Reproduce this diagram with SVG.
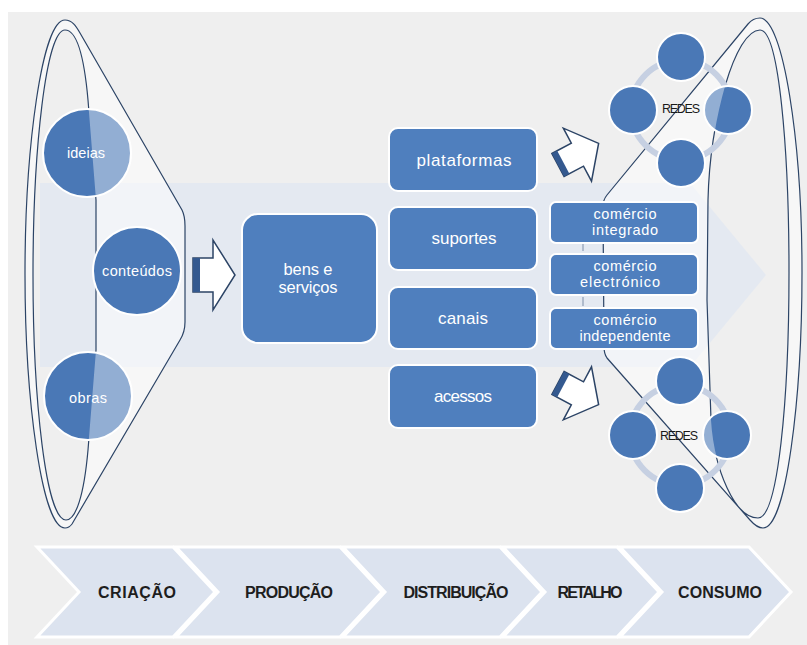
<svg xmlns="http://www.w3.org/2000/svg" xmlns:xlink="http://www.w3.org/1999/xlink" width="807" height="645" viewBox="0 0 807 645">
<defs>
<style>
.box{fill:#4f7fbe;stroke:#fff;stroke-width:2}
.circ{fill:#4a78b6;stroke:#fff;stroke-width:2}
.t{font-family:"Liberation Sans",Arial,sans-serif;fill:#fff;text-anchor:middle}
.chev{fill:#dce3ef;stroke:#fff;stroke-width:3;stroke-linejoin:miter}
.ct{font-family:"Liberation Sans",Arial,sans-serif;font-weight:bold;font-size:16px;fill:#1e1e1e;text-anchor:middle}
.loop{fill:none;stroke:#2c4466;stroke-width:1.2}
.ring{fill:none;stroke:#c6d0e2;stroke-width:6}
.arr{fill:#fff;stroke:#2c4466;stroke-width:1.5;stroke-linejoin:miter}
.arrd{fill:#34598f}
.redes{font-family:"Liberation Sans",Arial,sans-serif;font-size:12.5px;fill:#1a1a1a;text-anchor:middle}
</style>
<path id="lovl" d="M65,20 C72,20 76,26 80,33 L182,210 Q185,216 185,226 L185,322 Q185,332 180,340 L72,524 Q69,528 65,528 C42,528 25,400 25,274 C25,148 42,20 65,20 Z M65,30 C77,30 84,55 88,100 L96,200 L96,350 L88,450 C84,495 76,520 66,520 C46,520 33,400 33,275 C33,150 46,30 65,30 Z"/>
<path id="rovl" d="M760,18 C783,18 802,140 802,272 C802,400 786,528 763,528 Q757,528 750,520 L607,358 Q604,354 604,346 L603,206 Q603,200 607,195 L748,24 Q753,18 760,18 Z M760,30 C779,30 789,150 789,272 C789,400 778,518 758,518 C735,518 714,470 711,420 L707,300 L708,200 C710,120 735,30 760,30 Z"/>
<clipPath id="cIdeias"><circle cx="87" cy="153" r="44"/></clipPath>
<clipPath id="cObras"><circle cx="88" cy="396" r="44"/></clipPath>
<clipPath id="cR1"><circle cx="728" cy="110" r="24"/></clipPath>
<clipPath id="cR2"><circle cx="727" cy="435" r="24"/></clipPath>
<path id="darr" d="M0,-13 L22,-13 L22,-30 L46,0 L22,30 L22,13 L0,13 Z"/>
</defs>

<rect x="8" y="12" width="799" height="633" fill="#efefef"/>
<polygon points="40,183 690,183 766,275 690,367 40,367" fill="#e4e9f1"/>

<g id="funnels">
<use href="#lovl" xlink:href="#lovl" fill="#fff" fill-opacity="0.5" fill-rule="evenodd"/>
<use href="#rovl" xlink:href="#rovl" fill="#fff" fill-opacity="0.5" fill-rule="evenodd"/>
<use href="#lovl" xlink:href="#lovl" class="loop"/>
<use href="#rovl" xlink:href="#rovl" class="loop"/>
</g>

<g id="connectors">
<g transform="translate(193,275)">
<path class="arr" d="M0,-17 L20,-17 L20,-35 L42,0 L20,35 L20,17 L0,17 Z"/>
<rect class="arrd" x="0" y="-17" width="7" height="34"/>
</g>
<g transform="translate(558,165) rotate(-28)">
<use href="#darr" xlink:href="#darr" class="arr"/>
<rect class="arrd" x="0" y="-13" width="6" height="26"/>
</g>
<g transform="translate(558,383) rotate(28)">
<use href="#darr" xlink:href="#darr" class="arr"/>
<rect class="arrd" x="0" y="-13" width="6" height="26"/>
</g>
<line x1="583" y1="244" x2="583" y2="251" stroke="#7d8ea8" stroke-width="1"/>
<line x1="583" y1="297" x2="583" y2="306" stroke="#7d8ea8" stroke-width="1"/>
</g>

<g id="ideias">
<circle class="circ" cx="87" cy="153" r="44"/>
<text class="t" x="86" y="158" font-size="14.5" textLength="38">ideias</text>
<use href="#lovl" xlink:href="#lovl" fill="#fff" fill-opacity="0.4" fill-rule="evenodd" clip-path="url(#cIdeias)"/>
</g>
<g id="conteudos">
<circle class="circ" cx="137" cy="271" r="44"/>
<text class="t" x="137" y="276" font-size="14.5" textLength="70">conteúdos</text>
</g>
<g id="obras">
<circle class="circ" cx="88" cy="396" r="44"/>
<text class="t" x="88" y="402.5" font-size="14.5" textLength="38">obras</text>
<use href="#lovl" xlink:href="#lovl" fill="#fff" fill-opacity="0.4" fill-rule="evenodd" clip-path="url(#cObras)"/>
</g>

<g id="bens">
<rect class="box" x="242" y="214" width="135" height="129" rx="16"/>
<text class="t" x="308" y="275" font-size="16.5" textLength="49">bens e</text>
<text class="t" x="308" y="293" font-size="16.5" textLength="59">serviços</text>
</g>

<g id="plataformas">
<rect class="box" x="389" y="128" width="148" height="63" rx="9"/>
<text class="t" x="464" y="165.5" font-size="17" textLength="95">plataformas</text>
</g>
<g id="suportes">
<rect class="box" x="389" y="207" width="148" height="63" rx="9"/>
<text class="t" x="464" y="243.5" font-size="17" textLength="65">suportes</text>
</g>
<g id="canais">
<rect class="box" x="389" y="287" width="148" height="62" rx="9"/>
<text class="t" x="463" y="323.5" font-size="17" textLength="50">canais</text>
</g>
<g id="acessos">
<rect class="box" x="389" y="365" width="148" height="63" rx="9"/>
<text class="t" x="463" y="401.5" font-size="17" textLength="58">acessos</text>
</g>

<g id="comercio-integrado">
<rect class="box" x="550" y="202" width="148" height="41" rx="6"/>
<text class="t" x="625" y="219" font-size="14.5" textLength="63">comércio</text>
<text class="t" x="625" y="235" font-size="14.5" textLength="66">integrado</text>
</g>
<g id="comercio-electronico">
<rect class="box" x="550" y="254" width="148" height="41" rx="6"/>
<text class="t" x="625" y="271" font-size="14.5" textLength="63">comércio</text>
<text class="t" x="620" y="287" font-size="14.5" textLength="80">electrónico</text>
</g>
<g id="comercio-independente">
<rect class="box" x="550" y="308" width="148" height="41" rx="6"/>
<text class="t" x="625" y="325" font-size="14.5" textLength="63">comércio</text>
<text class="t" x="625" y="341" font-size="14.5" textLength="91">independente</text>
</g>

<g id="redes-top">
<circle class="ring" cx="681" cy="110" r="50"/>
<circle class="circ" cx="681" cy="57" r="24"/>
<circle class="circ" cx="633" cy="110" r="24"/>
<circle class="circ" cx="728" cy="110" r="24"/>
<circle class="circ" cx="681" cy="163" r="24"/>
<use href="#rovl" xlink:href="#rovl" fill="#fff" fill-opacity="0.4" fill-rule="evenodd" clip-path="url(#cR1)"/>
<text class="redes" x="681" y="113" textLength="38">REDES</text>
</g>
<g id="redes-bottom">
<circle class="ring" cx="680" cy="435" r="50"/>
<circle class="circ" cx="680" cy="381" r="24"/>
<circle class="circ" cx="633" cy="435" r="24"/>
<circle class="circ" cx="727" cy="435" r="24"/>
<circle class="circ" cx="680" cy="488" r="24"/>
<use href="#rovl" xlink:href="#rovl" fill="#fff" fill-opacity="0.4" fill-rule="evenodd" clip-path="url(#cR2)"/>
<text class="redes" x="679" y="440" textLength="38">REDES</text>
</g>

<g id="stage-criacao">
<polygon class="chev" points="37,547 173,547 215,592 173,637 37,637 79,592"/>
<text class="ct" x="137" y="598" textLength="78">CRIAÇÃO</text>
</g>
<g id="stage-producao">
<polygon class="chev" points="176,547 340,547 382,592 340,637 176,637 218,592"/>
<text class="ct" x="289" y="598" textLength="88">PRODUÇÃO</text>
</g>
<g id="stage-distribuicao">
<polygon class="chev" points="343,547 500,547 542,592 500,637 343,637 385,592"/>
<text class="ct" x="456" y="598" textLength="105">DISTRIBUIÇÃO</text>
</g>
<g id="stage-retalho">
<polygon class="chev" points="503,547 617,547 659,592 617,637 503,637 545,592"/>
<text class="ct" x="590" y="598" textLength="65">RETALHO</text>
</g>
<g id="stage-consumo">
<polygon class="chev" points="620,547 749,547 791,592 749,637 620,637 662,592"/>
<text class="ct" x="720" y="598" textLength="84">CONSUMO</text>
</g>
</svg>
